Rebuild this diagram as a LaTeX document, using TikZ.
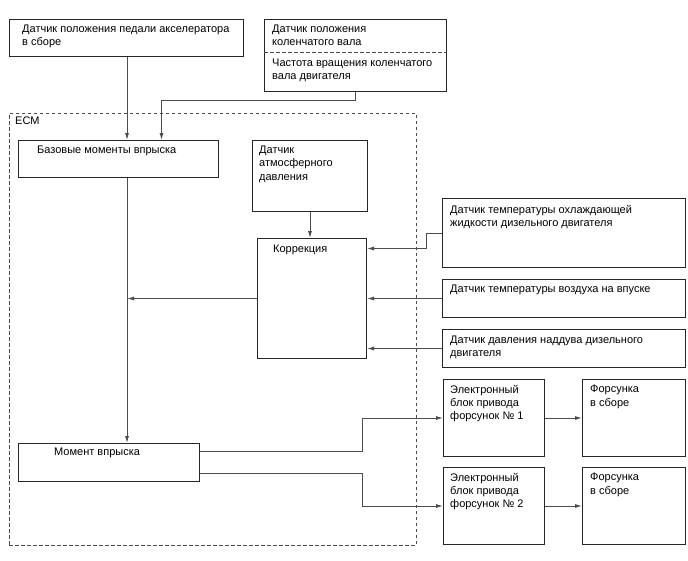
\documentclass[tikz,border=0pt]{standalone}
\usepackage{fontspec}
\setmainfont{Liberation Sans}
\usetikzlibrary{arrows.meta,positioning}

\tikzset{
  blk/.style={draw=black!85, line width=1pt, anchor=north west, inner sep=0pt},
  txt/.style={anchor=north west, inner sep=0pt, align=left, font=\fontsize{11}{13.2}\selectfont},
  conn/.style={draw=black!70, line width=0.9pt, -{Latex[length=7pt,width=4pt]}},
  ecmline/.style={draw=black!70, line width=0.8pt, dash pattern=on 3.5pt off 2.5pt}
}

\begin{document}
\begin{tikzpicture}[x=1pt,y=-1pt]
\useasboundingbox (0,0) rectangle (688,560);

% ECM frame
\node[ecmline, anchor=north west, inner sep=0pt, minimum width=407, minimum height=432] (ecm) at (9,113) {};
\node[txt] (ecm-t) at (15,117) {ECM};

% sensors at top
\node[blk, minimum width=234, minimum height=37] (pedal) at (9,19) {};
\node[txt] (pedal-t) at (22,25) {Датчик положения педали акселератора\\в сборе};

\node[blk, minimum width=182, minimum height=72] (crank) at (264,19) {};
\draw[ecmline] ([yshift=-33]crank.north west) -- ([yshift=-33]crank.north east);
\node[txt] (crank-t) at (272,25) {Датчик положения\\коленчатого вала};
\node[txt] (rpm-t) at (272,59) {Частота вращения коленчатого\\вала двигателя};

% inside ECM
\node[blk, minimum width=200, minimum height=37] (base) at (18,140) {};
\node[txt] (base-t) at (37,146) {Базовые моменты впрыска};

\node[blk, minimum width=115, minimum height=71] (atm) at (252,140) {};
\node[txt] (atm-t) at (259,146) {Датчик\\атмосферного\\давления};

\node[blk, minimum width=109, minimum height=120] (korr) at (257,238) {};
\node[txt] (korr-t) at (273,245) {Коррекция};

\node[blk, minimum width=181, minimum height=38] (moment) at (18,443) {};
\node[txt] (moment-t) at (54,448) {Момент впрыска};

% sensors on the right
\node[blk, minimum width=243, minimum height=69] (cool) at (442,198) {};
\node[txt] (cool-t) at (450,205) {Датчик температуры охлаждающей\\жидкости дизельного двигателя};

\node[blk, minimum width=243, minimum height=38] (intake) at (442,279) {};
\node[txt] (intake-t) at (450,285) {Датчик температуры воздуха на впуске};

\node[blk, minimum width=243, minimum height=38] (boost) at (442,329) {};
\node[txt] (boost-t) at (450,336) {Датчик давления наддува дизельного\\двигателя};

% drivers and injectors
\node[blk, minimum width=101, minimum height=77] (drv1) at (443,379) {};
\node[txt] (drv1-t) at (450,385) {Электронный\\блок привода\\форсунок № 1};
\node[blk, minimum width=101, minimum height=77] (drv2) at (443,467) {};
\node[txt] (drv2-t) at (450,473) {Электронный\\блок привода\\форсунок № 2};

\node[blk, minimum width=103, minimum height=77] (inj1) at (582,379) {};
\node[txt] (inj1-t) at (590,385) {Форсунка\\в сборе};
\node[blk, minimum width=103, minimum height=77] (inj2) at (582,467) {};
\node[txt] (inj2-t) at (590,473) {Форсунка\\в сборе};

\coordinate (trunk) at (127,0);

% connectors
\draw[conn] (pedal.south -| trunk) -- (base.north -| trunk);
\draw[conn] (crank.south) -- ++(0,8) -| ([xshift=43]base.north);
\draw[conn] (atm.south) -- (atm.south |- korr.north);
\draw[conn] (base.south -| trunk) -- (moment.north -| trunk);
\draw[conn] (korr.west) -- (korr.west -| trunk);

\draw[conn] (cool.west) -- ++(-16,0) |- ([yshift=50]korr.east);
\draw[conn] (intake.west) -- (intake.west -| korr.east);
\draw[conn] (boost.west) -- (boost.west -| korr.east);

\draw[conn] ([yshift=11]moment.east) -| ([xshift=-81]drv1.west) -- (drv1.west);
\draw[conn] ([yshift=-11]moment.east) -| ([xshift=-81]drv2.west) -- (drv2.west);
\draw[conn] (drv1.east) -- (inj1.west);
\draw[conn] (drv2.east) -- (inj2.west);
\end{tikzpicture}
\end{document}
